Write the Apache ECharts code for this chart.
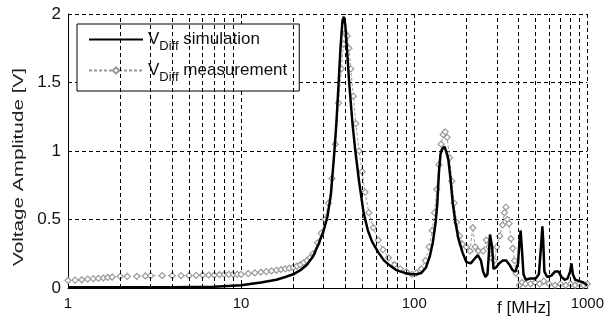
<!DOCTYPE html>
<html lang="en">
  <head>
    <meta charset="UTF-8" />
    <title>V_Diff simulation vs measurement</title>
    <script src="https://cdn.jsdelivr.net/npm/echarts@6/dist/echarts.min.js"></script>
    <style>
      html, body { margin: 0; padding: 0; background: #fff; }
      #main { width: 607px; height: 322px; }
    </style>
  </head>
  <body>
    <div id="main"></div>
    <script>
      // [f in MHz, amplitude in V]
      const simulation = [
        [1, 0.005], [2, 0.005], [4, 0.006], [7, 0.01], [10, 0.02], [13, 0.04],
        [16, 0.06], [18, 0.08], [20, 0.1], [22, 0.13], [24, 0.17], [26, 0.23],
        [28, 0.32], [30, 0.42], [31.5, 0.52], [33, 0.68], [34.5, 0.98], [35.5, 1.2],
        [36.6, 1.5], [37.5, 1.75], [38.5, 1.95], [39.2, 1.98], [40, 1.92], [41, 1.72],
        [42.1, 1.5], [44, 1.2], [45.7, 1.0], [48, 0.78], [51, 0.55], [54, 0.42],
        [57, 0.34], [62, 0.26], [67, 0.2], [73, 0.16], [79, 0.13], [88, 0.11],
        [96, 0.1], [103, 0.1], [110, 0.11], [117, 0.15], [123, 0.23], [128, 0.33],
        [133, 0.48], [136, 0.62], [139, 0.85], [142, 0.98], [146, 1.02], [150, 1.03],
        [153, 1.03], [157, 0.95], [162, 0.8], [167, 0.62], [173, 0.48], [180, 0.36],
        [190, 0.26], [200, 0.19], [212, 0.18], [222, 0.21], [233, 0.24], [243, 0.2],
        [250, 0.12], [258, 0.08], [265, 0.1], [270, 0.25], [274, 0.39], [278, 0.4],
        [282, 0.3], [287, 0.14], [297, 0.15], [310, 0.18], [325, 0.2], [340, 0.2],
        [355, 0.17], [370, 0.13], [385, 0.12], [398, 0.18], [406, 0.35], [412, 0.42],
        [418, 0.3], [428, 0.1], [441, 0.06], [470, 0.07], [503, 0.07], [525, 0.1],
        [540, 0.3], [550, 0.45], [556, 0.35], [565, 0.12], [587, 0.08], [620, 0.09],
        [650, 0.12], [683, 0.12], [710, 0.08], [740, 0.06], [770, 0.07], [795, 0.12],
        [810, 0.18], [825, 0.1], [851, 0.06], [900, 0.05], [950, 0.04], [1000, 0.02]
      ];

      const measurement = [
        [1, 0.055], [1.1, 0.058], [1.2, 0.06], [1.3, 0.065], [1.4, 0.068], [1.5, 0.07],
        [1.6, 0.073], [1.7, 0.077], [1.8, 0.08], [2, 0.085], [2.2, 0.085], [2.5, 0.085],
        [2.8, 0.088], [3, 0.09], [3.5, 0.09], [4, 0.09], [4.5, 0.09], [5, 0.09],
        [5.5, 0.092], [6, 0.095], [6.5, 0.095], [7, 0.095], [7.5, 0.097], [8, 0.1],
        [8.5, 0.1], [9, 0.1], [9.5, 0.1], [10, 0.1], [11, 0.105], [12, 0.11],
        [13, 0.115], [14, 0.12], [15, 0.125], [16, 0.13], [17, 0.135], [18, 0.14],
        [19, 0.145], [20, 0.15], [21, 0.16], [22, 0.17], [23, 0.185], [24, 0.2],
        [25, 0.22], [26, 0.25], [27.7, 0.33], [29, 0.4], [30.5, 0.5],
        [32, 0.62], [33.5, 0.8], [35, 1.05], [36.5, 1.35], [38, 1.6], [39, 1.78],
        [40, 1.86], [41, 1.84], [42, 1.75], [43, 1.6], [44.5, 1.4], [46, 1.2],
        [48, 1.0], [50, 0.85], [52, 0.7], [54.7, 0.55], [58, 0.44], [62, 0.35],
        [66, 0.28], [71, 0.22], [77, 0.17], [83, 0.14], [90, 0.12], [97, 0.1],
        [103, 0.11], [110, 0.14], [116, 0.2], [122, 0.3], [127, 0.42], [131, 0.55],
        [135, 0.72], [139, 0.9], [143, 1.05], [147, 1.12], [151, 1.14], [155, 1.1],
        [160, 0.95], [165, 0.78], [170, 0.62], [176, 0.48], [183, 0.38], [190, 0.32],
        [200, 0.3], [210, 0.27], [218, 0.44], [225, 0.3], [235, 0.27], [250, 0.27],
        [261, 0.35], [270, 0.3], [280, 0.22], [290, 0.2], [300, 0.3], [312, 0.38],
        [324, 0.46], [332, 0.55], [339, 0.59], [346, 0.5], [353, 0.47], [362, 0.36],
        [371, 0.29], [380, 0.2], [387, 0.11], [405, 0.02], [420, 0.04], [440, 0.03],
        [470, 0.03], [500, 0.04], [530, 0.03], [560, 0.05], [600, 0.03], [650, 0.02],
        [700, 0.03], [750, 0.02], [800, 0.03], [850, 0.02], [900, 0.03], [950, 0.02],
        [1000, 0.03]
      ];

      // minor grid lines of the log axis (2..9 in each decade)
      const minorGrid = [2, 3, 4, 5, 6, 7, 8, 9, 20, 30, 40, 50, 60, 70, 80, 90,
        200, 300, 400, 500, 600, 700, 800, 900];

      const font = "'Liberation Sans', Arial, sans-serif";
      const gridDash = { color: "#000", width: 1, type: [4, 3] };

      const chart = echarts.init(document.getElementById("main"));

      const option = {
        animation: false,
        textStyle: { fontFamily: font },
        grid: { left: 68, right: 14, top: 14, bottom: 34 },
        legend: {
          orient: "vertical",
          left: 77,
          top: 24,
          padding: [7, 12, 7, 11],
          itemWidth: 54,
          itemHeight: 8,
          itemGap: 9,
          backgroundColor: "#fff",
          borderColor: "#000",
          borderWidth: 1,
          borderRadius: 0,
          data: [
            { name: "simulation", itemStyle: { opacity: 0 } },
            { name: "measurement" }
          ],
          formatter: (name) => `{v|V}{s|Diff}{t| ${name}}`,
          textStyle: {
            color: "#111",
            fontFamily: font,
            fontSize: 17,
            rich: {
              v: { fontSize: 17, fontFamily: font, color: "#111" },
              s: { fontSize: 13, fontFamily: font, color: "#111", padding: [14, 0, 0, 0] },
              t: { fontSize: 17, fontFamily: font, color: "#111" }
            }
          }
        },
        xAxis: {
          type: "log",
          logBase: 10,
          min: 1,
          max: 1000,
          axisLine: { show: true, onZero: false, lineStyle: { color: "#000", width: 1 } },
          axisTick: { inside: true, length: 4, lineStyle: { color: "#000" } },
          axisLabel: {
            color: "#111",
            fontSize: 15,
            margin: 8,
            fontFamily: font,
            formatter: (v) => String(v)
          },
          splitLine: { show: true, lineStyle: gridDash }
        },
        yAxis: {
          type: "value",
          min: 0,
          max: 2,
          interval: 0.5,
          axisLine: { show: true, lineStyle: { color: "#000", width: 1 } },
          axisTick: { show: true, inside: true, length: 4, lineStyle: { color: "#000" } },
          axisLabel: { color: "#111", fontSize: 17, margin: 7, fontFamily: font },
          splitLine: { show: true, lineStyle: gridDash }
        },
        graphic: [
          {
            // y axis title, stretched along its length like the original
            type: "text",
            x: 19,
            y: 167,
            rotation: Math.PI / 2,
            scaleX: 1.38,
            style: {
              text: "Voltage Amplitude [V]",
              font: "15px " + font,
              fill: "#222",
              textAlign: "center",
              textVerticalAlign: "middle"
            }
          },
          {
            type: "text",
            left: 497,
            top: 300,
            style: { text: "f [MHz]", font: "17px " + font, fill: "#111" }
          }
        ],
        series: [
          {
            // holder for the minor dashed grid
            type: "line",
            data: [],
            z: 1,
            silent: true,
            markLine: {
              silent: true,
              symbol: "none",
              label: { show: false },
              lineStyle: gridDash,
              data: minorGrid.map((f) => ({ xAxis: f }))
            }
          },
          {
            name: "measurement",
            type: "line",
            z: 3,
            data: measurement,
            symbol: "diamond",
            symbolSize: 6,
            showAllSymbol: true,
            itemStyle: { color: "#fff", borderColor: "#999", borderWidth: 1.2 },
            lineStyle: { color: "#999", width: 1, type: [3, 2] }
          },
          {
            name: "simulation",
            type: "line",
            z: 4,
            data: simulation,
            showSymbol: false,
            symbol: "none",
            itemStyle: { color: "#000" },
            lineStyle: { color: "#000", width: 2.5 }
          }
        ]
      };

      chart.setOption(option);
    </script>
  </body>
</html>
